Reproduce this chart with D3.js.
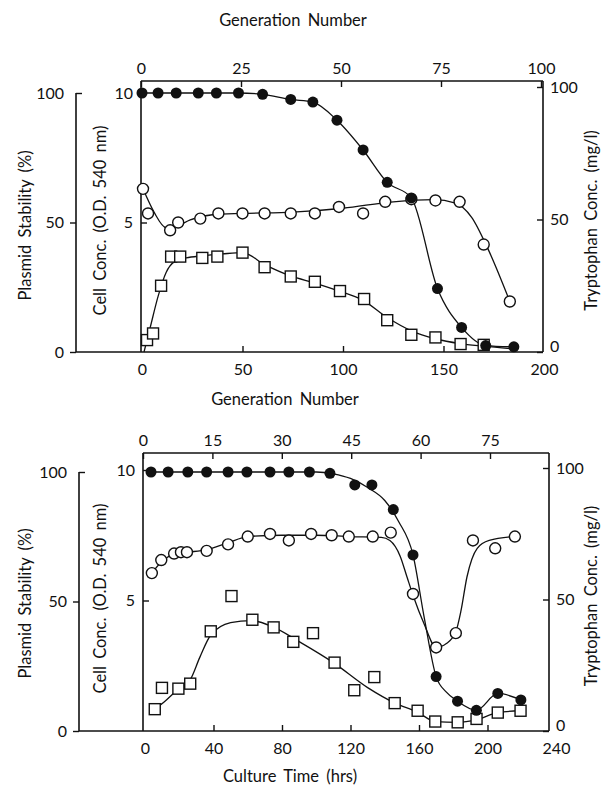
<!DOCTYPE html>
<html>
<head>
<meta charset="utf-8">
<script src="https://cdn.jsdelivr.net/npm/d3@7"></script>
<style>
  body { margin: 0; background: #fff; }
  svg text { font-family: "Lato", "Open Sans", sans-serif; fill: #111; }
</style>
</head>
<body>
<svg id="chart" width="612" height="789"></svg>
<script>
//#region DATA ////////////////////////////////////////////////////////////////

// top panel: x in bottom-axis units (0-200), top axis = generation number
const genTicks1 = [0, 25, 50, 75, 100];
const xTicks1 = [0, 50, 100, 150, 200];
const stabT1 = [0, 8, 17, 28, 37, 48, 60, 74, 85, 97, 110, 122, 134, 147, 159, 171, 185];
const stabV1 = [100, 100, 100, 100, 100, 100, 99.5, 97.5, 96.5, 89.5, 78, 65.5, 59.5, 24.5, 9.5, 2.5, 2];
const cellT1 = [0.5, 3, 14, 18, 29, 38, 50, 61, 74, 86, 98, 110, 121, 134, 146, 158, 170, 183];
const cellV1 = [6.3, 5.35, 4.7, 5.0, 5.15, 5.35, 5.35, 5.35, 5.35, 5.35, 5.6, 5.35, 5.8, 5.9, 5.85, 5.8, 4.15, 1.95];
const cellFitT1 = [0.5, 6, 12, 17, 24, 35, 50, 75, 100, 125, 145, 156, 164, 172, 183];
const cellFitV1 = [6.3, 5.4, 4.8, 4.85, 5.1, 5.3, 5.35, 5.4, 5.55, 5.8, 5.88, 5.75, 5.2, 4.0, 1.95];
const trpT1 = [2.5, 5.5, 9.5, 14.5, 19, 30, 37.5, 50, 61, 74, 86, 98.5, 110.5, 122, 134, 146, 158.5, 170];
const trpV1 = [4.5, 7, 25, 36, 36, 35.5, 36, 37.5, 32, 28.5, 26.5, 23, 20, 12, 6.5, 5.5, 3, 2.7];
const trpFitT1 = [1, 4, 8, 12, 16, 22, 30, 40, 50, 61, 74, 86, 98, 110, 122, 134, 146, 158, 170, 185];
const trpFitV1 = [0, 9, 21, 30, 34, 35.5, 36.3, 37, 37.5, 33, 28.7, 26, 23, 19.5, 13, 8, 5, 3.2, 2.2, 1.2];

// bottom panel: x = culture time (hrs), top axis = generation number
const genTicks2 = [0, 15, 30, 45, 60, 75];
const xTicks2 = [0, 40, 80, 120, 160, 200, 240];
const stabT2 = [3.5, 13.5, 25, 36, 48.5, 59.5, 73, 84, 96, 108, 122.5, 132.5, 145, 156.5, 170, 182.5, 193.5, 206, 219.5];
const stabV2 = [100, 100, 100, 100, 100, 100, 100, 100, 100, 99.5, 95, 95, 85.5, 68, 21, 11.5, 8, 14.5, 12];
const stabFitT2 = [3.5, 60, 100, 110, 120, 130, 140, 148, 156.5, 163, 170, 176, 182.5, 193.5, 206, 219.5];
const stabFitV2 = [100, 100, 100, 99.3, 97.5, 94, 89, 81, 68, 44, 21, 15, 11.5, 8, 14.5, 12];
const cellT2 = [4, 9.5, 17, 21, 24.5, 36, 48.5, 60, 73, 84, 97, 109, 119, 133, 143.5, 156.5, 170, 181.5, 191.5, 204.5, 216];
const cellV2 = [6.05, 6.55, 6.8, 6.85, 6.85, 6.9, 7.15, 7.45, 7.55, 7.3, 7.55, 7.5, 7.45, 7.45, 7.6, 5.25, 3.2, 3.75, 7.3, 7.0, 7.45];
const cellFitT2 = [4, 10, 17, 25, 36, 48, 60, 80, 100, 120, 138, 143, 149, 153, 156.5, 163, 170, 176, 181.5, 184.5, 188, 194, 201, 216];
const cellFitV2 = [6.05, 6.5, 6.78, 6.85, 6.95, 7.2, 7.45, 7.5, 7.5, 7.45, 7.42, 7.3, 6.7, 5.9, 5.2, 4.1, 3.2, 3.35, 3.8, 4.6, 5.9, 7.0, 7.3, 7.45];
const trpT2 = [5.7, 9.9, 19.5, 26.4, 38.4, 50.5, 62.7, 75.1, 86.6, 98.1, 110.7, 122.2, 133.9, 145.8, 159.2, 169.5, 182.6, 193.6, 206, 219.3];
const trpV2 = [8.3, 16.4, 16.1, 18, 37.9, 51.3, 42.3, 39.4, 33.9, 37.2, 26, 15.5, 20.5, 10.6, 7.7, 3.6, 3.3, 4.6, 7, 7.7];
const trpFitT2 = [5.7, 12, 19.5, 26.4, 32, 38.4, 50, 62, 75, 90, 110, 130, 146, 159, 169.5, 182.6, 193.6, 206, 219.3];
const trpFitV2 = [8.3, 11.5, 16, 19.5, 28, 36.5, 41.2, 42, 39.5, 34, 26, 16.5, 10.6, 7.2, 3.6, 3.3, 4.3, 7, 7.7];

const pctTicks = [0, 50, 100];
const cellTicks = [0, 5, 10];

//#endregion

//#region DRAWING /////////////////////////////////////////////////////////////

const svg = d3.select("#chart");
const zip = (t, v) => t.map((d, i) => [d, v[i]]);

function drawPanel(p)
{
  const g = svg.append("g");
  const [yB, yT] = p.yCell.range();
  const frameTop = p.frameTop, xIn = p.gen.range()[0], xRight = p.xRight;
  const xOut = p.xOut;

  // frame lines
  const line = (x1, y1, x2, y2) => g.append("line")
      .attr("x1", x1).attr("y1", y1).attr("x2", x2).attr("y2", y2)
      .attr("stroke", "#111").attr("stroke-width", 1.6);
  line(xIn, frameTop, xRight, frameTop);
  line(xIn, frameTop, xIn, yB);
  line(xRight, frameTop, xRight, yB);
  line(xOut, yB, xRight, yB);
  line(xOut, p.yStab(100), xOut, yB);

  const styleAxis = sel => {
    sel.select(".domain").remove();
    sel.selectAll("line").attr("stroke", "#111").attr("stroke-width", 1.4);
    sel.selectAll("text").attr("font-size", 16).style("font-family", "Lato, sans-serif");
  };

  // top: generation number
  g.append("g").attr("transform", `translate(0,${frameTop})`)
      .call(d3.axisTop(p.gen).tickValues(p.genTicks).tickSizeInner(-6).tickSizeOuter(0).tickPadding(7))
      .call(styleAxis);
  // bottom
  g.append("g").attr("transform", `translate(0,${yB})`)
      .call(d3.axisBottom(p.x).tickValues(p.xTicks).tickSizeInner(-6).tickSizeOuter(0).tickPadding(12))
      .call(styleAxis)
      .call(a => a.selectAll(".tick line").attr("opacity", d => d === 0 || p.x(d) > xRight ? 0 : 1));
  // inner left: cell conc
  g.append("g").attr("transform", `translate(${xIn},0)`)
      .call(d3.axisLeft(p.yCell).tickValues(cellTicks).tickSizeInner(-6).tickSizeOuter(0).tickPadding(8))
      .call(styleAxis)
      .call(a => a.selectAll(".tick").filter(d => d === 0).remove());
  // outer left: plasmid stability
  g.append("g").attr("transform", `translate(${xOut},0)`)
      .call(d3.axisLeft(p.yStab).tickValues(pctTicks).tickSizeInner(6).tickSizeOuter(0).tickPadding(6))
      .call(styleAxis)
      .call(a => a.selectAll(".tick line").attr("x2", d => d === 100 ? 6 : -6));
  // right: tryptophan
  g.append("g").attr("transform", `translate(${xRight},0)`)
      .call(d3.axisRight(p.yTrp).tickValues(pctTicks).tickSizeInner(-6).tickSizeOuter(0).tickPadding(7))
      .call(styleAxis)
      .call(a => a.selectAll(".tick text").filter(d => d === 0).attr("dy", "-0.05em"));

  // axis titles
  const title = (x, y, rot, txt) => g.append("text")
      .attr("transform", `translate(${x},${y}) rotate(${rot})`)
      .attr("text-anchor", "middle").attr("font-size", 16.5)
      .attr("word-spacing", 3).text(txt);
  title(p.titleX, p.titleBottomY, 0, p.bottomTitle);
  title(31, (yB + yT) / 2 + 3, -90, "Plasmid Stability (%)");
  title(106, (yB + yT) / 2 - 2, -90, "Cell Conc. (O.D. 540 nm)");
  title(597, (yB + frameTop) / 2 + 4, -90, "Tryptophan Conc. (mg/l)");

  // curves
  const curve = (pts, sy, c) => g.append("path")
      .attr("d", d3.line().x(d => p.x(d[0])).y(d => sy(d[1])).curve(c)(pts))
      .attr("fill", "none").attr("stroke", "#111").attr("stroke-width", 1.3);
  curve(p.stabFit, p.yStab, d3.curveMonotoneX);
  curve(p.cellFit, p.yCell, d3.curveMonotoneX);
  curve(p.trpFit, p.yTrp, d3.curveMonotoneX);

  // markers
  g.append("g").selectAll("rect").data(p.trp).join("rect")
      .attr("x", d => p.x(d[0]) - 5.5).attr("y", d => p.yTrp(d[1]) - 5.5)
      .attr("width", 11).attr("height", 11)
      .attr("fill", "#fff").attr("stroke", "#111").attr("stroke-width", 1.4);
  g.append("g").selectAll("circle").data(p.cell).join("circle")
      .attr("cx", d => p.x(d[0])).attr("cy", d => p.yCell(d[1])).attr("r", 5.5)
      .attr("fill", "#fff").attr("stroke", "#111").attr("stroke-width", 1.4);
  g.append("g").selectAll("circle").data(p.stab).join("circle")
      .attr("cx", d => p.x(d[0])).attr("cy", d => p.yStab(d[1])).attr("r", 5.5)
      .attr("fill", "#111");
}

// top title
svg.append("text").attr("x", 293).attr("y", 26).attr("text-anchor", "middle")
    .attr("font-size", 16.5).attr("word-spacing", 3).text("Generation Number");

drawPanel({
  gen: d3.scaleLinear([0, 100], [141, 541]),
  x: d3.scaleLinear([0, 200], [142, 544]),
  yStab: d3.scaleLinear([0, 100], [352, 93]),
  yCell: d3.scaleLinear([0, 10], [352, 93]),
  yTrp: d3.scaleLinear([0, 100], [352, 87]),
  frameTop: 81, xRight: 543, xOut: 76,
  genTicks: genTicks1, xTicks: xTicks1,
  bottomTitle: "Generation Number", titleX: 285, titleBottomY: 405,
  stab: zip(stabT1, stabV1), stabFit: zip(stabT1, stabV1),
  cell: zip(cellT1, cellV1), cellFit: zip(cellFitT1, cellFitV1),
  trp: zip(trpT1, trpV1), trpFit: zip(trpFitT1, trpFitV1)
});

drawPanel({
  gen: d3.scaleLinear([0, 75], [143, 490]),
  x: d3.scaleLinear([0, 240], [145, 556]),
  yStab: d3.scaleLinear([0, 100], [731, 472]),
  yCell: d3.scaleLinear([0, 10], [731, 470]),
  yTrp: d3.scaleLinear([0, 100], [731, 468]),
  frameTop: 453, xRight: 549, xOut: 79,
  genTicks: genTicks2, xTicks: xTicks2,
  bottomTitle: "Culture Time (hrs)", titleX: 290, titleBottomY: 782,
  stab: zip(stabT2, stabV2), stabFit: zip(stabFitT2, stabFitV2),
  cell: zip(cellT2, cellV2), cellFit: zip(cellFitT2, cellFitV2),
  trp: zip(trpT2, trpV2), trpFit: zip(trpFitT2, trpFitV2)
});

//#endregion
</script>
</body>
</html>
